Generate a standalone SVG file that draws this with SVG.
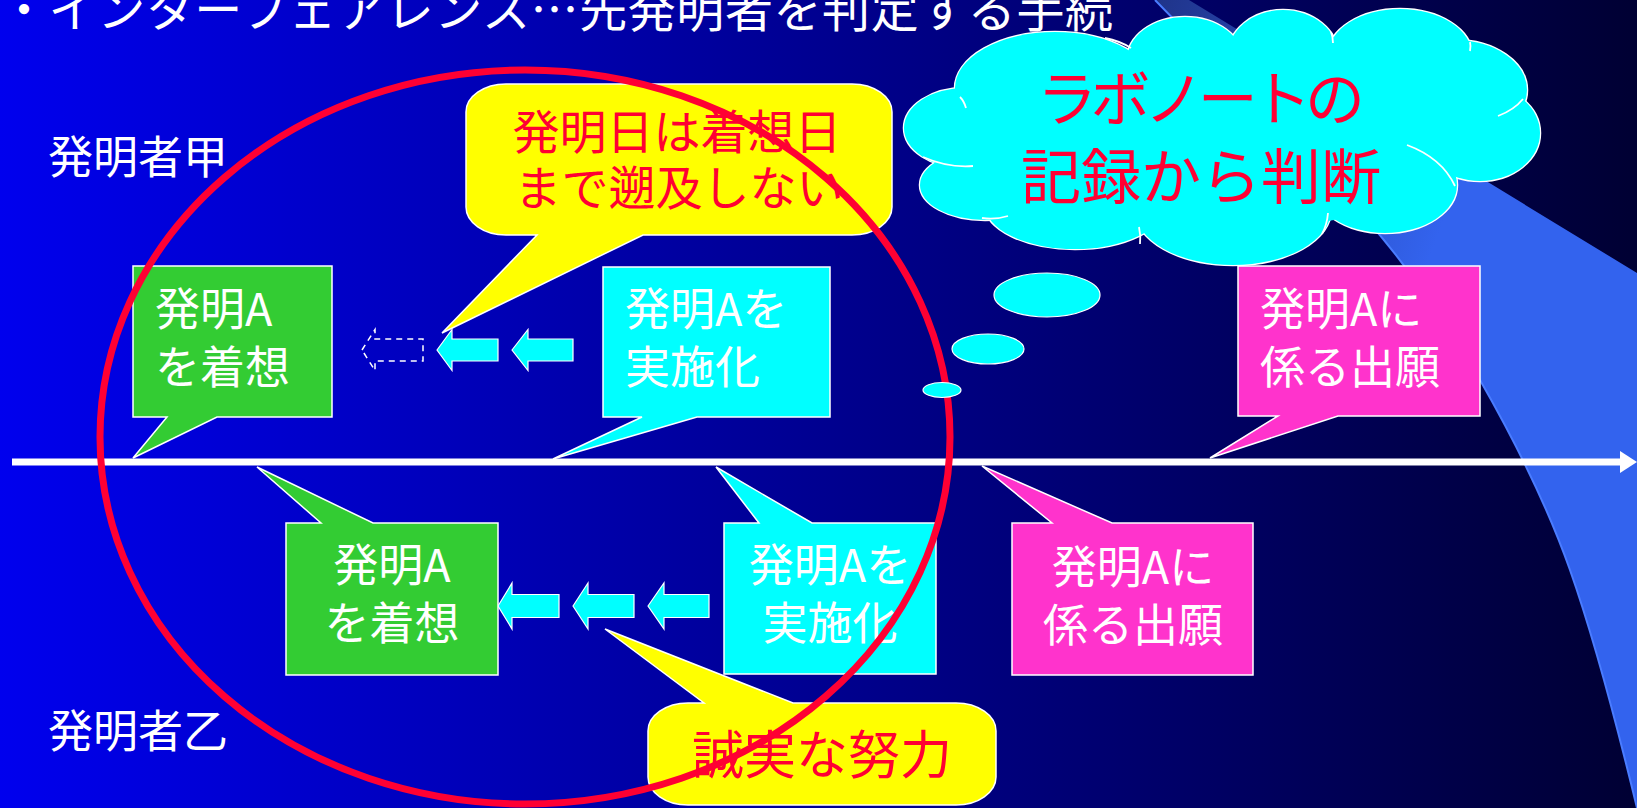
<svg xmlns="http://www.w3.org/2000/svg" width="1637" height="808" viewBox="0 0 1637 808">
<defs>
<linearGradient id="bg" x1="0" y1="0" x2="1637" y2="0" gradientUnits="userSpaceOnUse">
<stop offset="0" stop-color="#0000EE"/>
<stop offset="1" stop-color="#000033"/>
</linearGradient>
<linearGradient id="sw" x1="1150" y1="0" x2="1480" y2="120" gradientUnits="userSpaceOnUse">
<stop offset="0" stop-color="#1F3388"/>
<stop offset="1" stop-color="#3363EE"/>
</linearGradient>
<style>
.box{stroke:#FFFFFF;stroke-width:1.5;stroke-linejoin:miter}
.green{fill:#33CC33}
.cyan{fill:#00FFFF}
.pink{fill:#FF33CC}
.yellow{fill:#FFFF00}
.wt{fill:#FFFFFF;font-family:"Noto Sans CJK JP","Noto Sans CJK SC",sans-serif;font-size:45px}
.rt{fill:#FF0033;font-family:"Noto Sans CJK JP","Noto Sans CJK SC",sans-serif}
.mid{text-anchor:middle}
.arr{fill:#00FFFF;stroke:#FFFFFF;stroke-width:1.2}
.lobe{fill:none;stroke:#FFFFFF;stroke-width:2.5}
.lobef{fill:#00FFFF}
.arc{fill:none;stroke:#FFFFFF;stroke-width:1.8}
</style>
</defs>
<rect x="0" y="0" width="1637" height="808" fill="url(#bg)"/>
<g id="swoosh">
<path d="M1155,0 L1189,0 L1637,273 L1637,808 L1637,808 Q1600,655 1570,570 Q1540,485 1480,380 Q1420,275 1340,190 Z" fill="url(#sw)"/>
<path d="M1155,0 L1340,190 Q1420,275 1480,380 Q1540,485 1570,570 Q1600,655 1637,808" fill="none" stroke="#4A7CFF" stroke-width="2"/>
</g>
<g id="title">
<text x="0" y="27" fill="#FFFFFF" font-family="'Noto Sans CJK JP',sans-serif" font-size="48" textLength="1113" lengthAdjust="spacing">・インターフェアレンス…先発明者を判定する手続</text>
</g>
<g id="label-kou"><text class="wt" x="48" y="174" font-size="46">発明者甲</text></g>
<g id="label-otsu"><text class="wt" x="48" y="748" font-size="46">発明者乙</text></g>
<g id="connectors">
<line x1="12" y1="462" x2="1624" y2="462" stroke="#FFFFFF" stroke-width="7"/>
<polygon points="1620,451 1637,462 1620,473" fill="#FFFFFF"/>
<path class="arr" d="M437,350 L452,329.5 V339 H498 V361 H452 V370.5 Z"/>
<path class="arr" d="M512,350 L528,329.5 V339 H573 V361 H528 V370.5 Z"/>
<path d="M362,350 L375,329.5 V339 H423 V361 H375 V370.5 Z" fill="none" stroke="#FFFFFF" stroke-width="1.5" stroke-dasharray="6,5"/>
<path class="arr" d="M498,606 L512,583 V594.5 H559 V617.5 H512 V629 Z"/>
<path class="arr" d="M573,606 L588,583 V594.5 H634 V617.5 H588 V629 Z"/>
<path class="arr" d="M648,606 L664,583 V594.5 H709 V617.5 H664 V629 Z"/>
</g>
<g id="kou-conception">
<path class="box green" d="M133,266 H332 V417 H217 L133,458 L167,417 H133 Z"/>
<text class="wt" x="155" y="326">発明A</text>
<text class="wt" x="155" y="384">を着想</text>
</g>
<g id="kou-reduction">
<path class="box cyan" d="M603,267 H830 V417 H697 L553,459 L642,417 H603 Z"/>
<text class="wt" x="625" y="326">発明Aを</text>
<text class="wt" x="625" y="384">実施化</text>
</g>
<g id="kou-filing">
<path class="box pink" d="M1238,266 H1480 V416 H1338 L1210,458 L1278,416 H1238 Z"/>
<text class="wt" x="1260" y="326">発明Aに</text>
<text class="wt" x="1260" y="384">係る出願</text>
</g>
<g id="note-no-backdating">
<path class="box yellow" d="M506,84 H852 A40,28 0 0 1 892,112 V207 A40,28 0 0 1 852,235 H643 L442,333 L537,235 H506 A40,28 0 0 1 466,207 V112 A40,28 0 0 1 506,84 Z"/>
<text class="rt mid" x="677" y="149" font-size="47">発明日は着想日</text>
<text class="rt mid" x="679" y="205" font-size="47">まで遡及しない</text>
</g>
<g id="otsu-conception">
<path class="box green" d="M286,523 H321 L257,467 L373,523 H498 V675 H286 Z"/>
<text class="wt mid" x="392" y="582">発明A</text>
<text class="wt mid" x="392" y="640">を着想</text>
</g>
<g id="otsu-reduction">
<path class="box cyan" d="M724,523 H759 L716,467 L812,523 H936 V674 H724 Z"/>
<text class="wt mid" x="830" y="582">発明Aを</text>
<text class="wt mid" x="830" y="640">実施化</text>
</g>
<g id="otsu-filing">
<path class="box pink" d="M1012,523 H1052 L982,466 L1112,523 H1253 V675 H1012 Z"/>
<text class="wt mid" x="1133" y="584">発明Aに</text>
<text class="wt mid" x="1133" y="642">係る出願</text>
</g>
<g id="note-diligence">
<path class="box yellow" d="M688,703 H704 L605,629 L793,703 H956 A40,28 0 0 1 996,731 V777 A40,28 0 0 1 956,805 H688 A40,28 0 0 1 648,777 V731 A40,28 0 0 1 688,703 Z"/>
<text class="rt mid" x="822" y="774" font-size="52">誠実な努力</text>
</g>
<g id="interference-ellipse">
<ellipse cx="525" cy="437" rx="425" ry="367" fill="none" stroke="#FF0033" stroke-width="7"/>
</g>
<g id="cloud-labnote">
<ellipse class="arr" cx="942" cy="390" rx="19" ry="7.5" stroke-width="1.5"/>
<ellipse class="arr" cx="988" cy="349" rx="36" ry="15" stroke-width="1.5"/>
<ellipse class="arr" cx="1047" cy="295" rx="53" ry="22" stroke-width="1.5"/>
<g>
<ellipse class="lobe" cx="965" cy="128" rx="61" ry="40"/>
<ellipse class="lobe" cx="985" cy="185" rx="65" ry="35"/>
<ellipse class="lobe" cx="1075" cy="205" rx="90" ry="44"/>
<ellipse class="lobe" cx="1233" cy="210" rx="98" ry="55"/>
<ellipse class="lobe" cx="1385" cy="185" rx="72" ry="48"/>
<ellipse class="lobe" cx="1480" cy="133" rx="60" ry="48"/>
<ellipse class="lobe" cx="1455" cy="90" rx="72" ry="50"/>
<ellipse class="lobe" cx="1400" cy="55" rx="72" ry="46"/>
<ellipse class="lobe" cx="1283" cy="55" rx="55" ry="45"/>
<ellipse class="lobe" cx="1185" cy="60" rx="58" ry="43"/>
<ellipse class="lobe" cx="1055" cy="88" rx="100" ry="56"/>
</g>
<g>
<ellipse class="lobef" cx="965" cy="128" rx="61" ry="40"/>
<ellipse class="lobef" cx="985" cy="185" rx="65" ry="35"/>
<ellipse class="lobef" cx="1075" cy="205" rx="90" ry="44"/>
<ellipse class="lobef" cx="1233" cy="210" rx="98" ry="55"/>
<ellipse class="lobef" cx="1385" cy="185" rx="72" ry="48"/>
<ellipse class="lobef" cx="1480" cy="133" rx="60" ry="48"/>
<ellipse class="lobef" cx="1455" cy="90" rx="72" ry="50"/>
<ellipse class="lobef" cx="1400" cy="55" rx="72" ry="46"/>
<ellipse class="lobef" cx="1283" cy="55" rx="55" ry="45"/>
<ellipse class="lobef" cx="1185" cy="60" rx="58" ry="43"/>
<ellipse class="lobef" cx="1055" cy="88" rx="100" ry="56"/>
<ellipse class="lobef" cx="1220" cy="140" rx="250" ry="90"/>
</g>
<path class="arc" d="M923,157 Q948,168 973,166"/>
<path class="arc" d="M982,218 Q995,220 1008,216"/>
<path class="arc" d="M1139,227 Q1141,236 1140,244"/>
<path class="arc" d="M1328,213 Q1327,225 1322,234"/>
<path class="arc" d="M1407,145 Q1442,158 1455,186"/>
<path class="arc" d="M1498,116 Q1514,110 1523,99"/>
<path class="arc" d="M1470,42 Q1471,46 1470,51"/>
<path class="arc" d="M1331,32 Q1333,37 1333,43"/>
<path class="arc" d="M1105,38 Q1120,41 1131,48"/>
<path class="arc" d="M960,97 Q964,101 966,108"/>
<text class="rt mid" x="1201" y="121" font-size="60" textLength="328" lengthAdjust="spacing">ラボノートの</text>
<text class="rt mid" x="1201" y="199" font-size="60">記録から判断</text>
</g>
</svg>
